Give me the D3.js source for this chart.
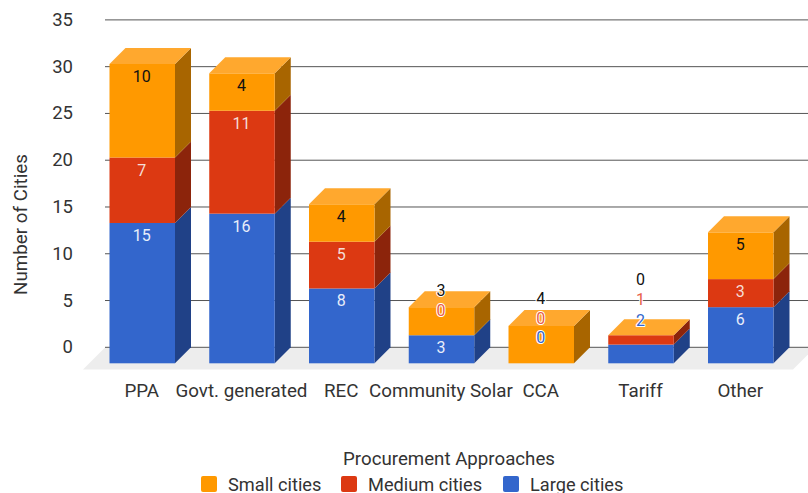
<html lang="en">
  <head>
    <meta charset="UTF-8" />
    <title>Procurement Approaches</title>
    <script src="https://d3js.org/d3.v7.min.js"></script>
  </head>
  <style>
    body {
      margin: 0;
      background: #fff;
    }

    svg {
      display: block;
    }

    text {
      font-family: Roboto, sans-serif;
      fill: #333;
    }
  </style>
  <body>
    <div id="viz">
      <svg width="808" height="493"></svg>
    </div>
    <script>
      var categories = ["PPA", "Govt. generated", "REC", "Community Solar", "CCA", "Tariff", "Other"];
      var largeCities = [15, 16, 8, 3, 0, 2, 6];
      var mediumCities = [7, 11, 5, 0, 0, 1, 3];
      var smallCities = [10, 4, 4, 3, 4, 0, 5];
      var yTicks = [0, 5, 10, 15, 20, 25, 30, 35];
      var seriesNames = ["Large cities", "Medium cities", "Small cities"];

      var series = [
        { name: seriesNames[0], values: largeCities, front: "#3366cc", side: "#204187", label: "#e8eefa", outside: "#3366cc" },
        { name: seriesNames[1], values: mediumCities, front: "#dc3912", side: "#8c240b", label: "#f5ddd6", outside: "#e8604a" },
        { name: seriesNames[2], values: smallCities, front: "#ff9900", side: "#a86500", label: "#111", outside: "#111" }
      ];

      var depth = 16;
      var svg = d3.select("svg");

      var y = d3.scaleLinear().domain([0, 35]).range([347.3, 19.9]);
      var x = d3.scaleBand()
        .domain(categories)
        .range([109.5, 773.5])
        .paddingInner(0.3434);

      // floor
      svg.append("path")
        .attr("d", "M83,369.5L105,347.5H815L793,369.5Z")
        .style("fill", "#ededed");

      // gridlines + y labels
      var yAxis = svg.append("g").selectAll("g").data(yTicks).enter().append("g");
      yAxis.append("line")
        .attr("x1", 105)
        .attr("x2", 808)
        .attr("y1", function (d) { return y(d); })
        .attr("y2", function (d) { return y(d); })
        .style("stroke", "#555")
        .style("stroke-width", 1);
      yAxis.append("text")
        .attr("x", 73)
        .attr("y", function (d) { return y(d) + 6; })
        .style("text-anchor", "end")
        .style("font-size", "18.5px")
        .text(function (d) { return d; });

      function poly(pts) {
        return "M" + pts.map(function (p) { return p.join(","); }).join("L") + "Z";
      }

      // bars, one category at a time so the sides overlap properly
      var barW = x.bandwidth();
      categories.forEach(function (cat, i) {
        var x0 = x(cat);
        var g = svg.append("g");
        var base = 0;
        series.forEach(function (s) {
          var top = base + s.values[i];
          var y0 = y(base) + depth;
          var y1 = y(top) + depth;
          g.append("path")
            .attr("d", poly([[x0 + barW, y0], [x0 + barW + depth, y0 - depth], [x0 + barW + depth, y1 - depth], [x0 + barW, y1]]))
            .style("fill", s.side);
          g.append("rect")
            .attr("x", x0)
            .attr("y", y1)
            .attr("width", barW)
            .attr("height", y0 - y1)
            .style("fill", s.front);
          base = top;
        });
        var yt = y(base) + depth;
        g.append("path")
          .attr("d", poly([[x0, yt], [x0 + depth, yt - depth], [x0 + barW + depth, yt - depth], [x0 + barW, yt]]))
          .style("fill", "#ffa82e");
      });

      // value labels sit 12px under the segment top, except where small
      // segments force them apart. Offsets are px from that default spot.
      var labelNudge = {
        "Community Solar": [0, -37, -29],
        "CCA": [-38, -57, -40],
        "Tariff": [-37, -48, -68]
      };

      categories.forEach(function (cat, i) {
        var base = 0;
        series.forEach(function (s, k) {
          base += s.values[i];
          var nudge = labelNudge[cat] ? labelNudge[cat][k] : 0;
          var cy = y(base) + depth + 12 + nudge;
          var moved = nudge !== 0;
          svg.append("text")
            .attr("x", x(cat) + barW / 2 - 0.5)
            .attr("y", cy + 6)
            .style("text-anchor", "middle")
            .style("font-size", "16px")
            .style("fill", moved ? s.outside : s.label)
            .style("stroke", moved ? "#fff" : "none")
            .style("stroke-width", moved ? 2 : 0)
            .style("stroke-linejoin", "round")
            .style("paint-order", "stroke")
            .text(s.values[i]);
        });
      });

      // category labels
      svg.append("g").selectAll("text").data(categories).enter().append("text")
        .attr("x", function (d) { return x(d) + barW / 2 - 0.5; })
        .attr("y", 396.5)
        .style("text-anchor", "middle")
        .style("font-size", "18.8px")
        .text(function (d) { return d; });

      svg.append("text")
        .attr("transform", "translate(27,224.5) rotate(-90)")
        .style("text-anchor", "middle")
        .style("font-size", "18.8px")
        .text("Number of Cities");

      svg.append("text")
        .attr("x", 449)
        .attr("y", 465)
        .style("text-anchor", "middle")
        .style("font-size", "18.7px")
        .text("Procurement Approaches");

      // legend
      var legendX = [201, 341, 503];
      var legendOrder = series.slice().reverse();
      var legend = svg.append("g").selectAll("g").data(legendOrder).enter().append("g")
        .attr("transform", function (d, i) { return "translate(" + legendX[i] + ",0)"; });
      legend.append("rect")
        .attr("y", 476)
        .attr("width", 16)
        .attr("height", 16)
        .attr("rx", 2)
        .style("fill", function (d) { return d.front; });
      legend.append("text")
        .attr("x", 27)
        .attr("y", 490.5)
        .style("font-size", "18.2px")
        .text(function (d) { return d.name; });
    </script>
  </body>
</html>
